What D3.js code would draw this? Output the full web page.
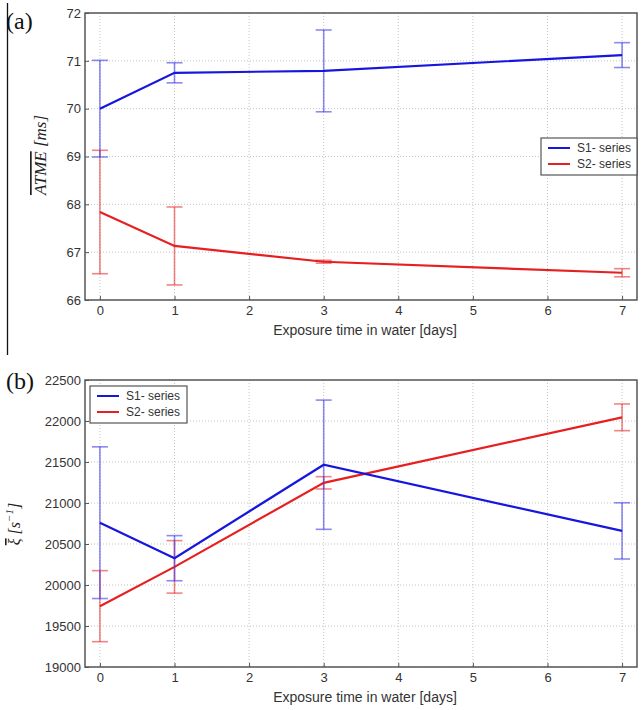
<!DOCTYPE html>
<html>
<head>
<meta charset="utf-8">
<script src="https://cdn.jsdelivr.net/npm/d3@7"></script>
<style>
  body { margin: 0; background: #fff; }
  svg { display: block; }
</style>
</head>
<body>
<svg id="chart" width="641" height="710"></svg>
<script>
// ---------- data ----------
const days = [0, 1, 3, 7];
const xTicks = [0, 1, 2, 3, 4, 5, 6, 7];
const seriesNames = ["S1- series", "S2- series"];

// panel (a): ATME [ms]
const atmeS1 = [70.00, 70.75, 70.79, 71.12];
const atmeS1Err = [1.01, 0.21, 0.855, 0.26];
const atmeS2 = [67.84, 67.13, 66.80, 66.57];
const atmeS2Err = [1.29, 0.815, 0.03, 0.085];
const atmeTicks = [66, 67, 68, 69, 70, 71, 72];

// panel (b): xi [s^-1]
const xiS1 = [20760, 20327, 21467, 20660];
const xiS1Err = [925, 275, 788, 343];
const xiS2 = [19742, 20221, 21246, 22045];
const xiS2Err = [433, 320, 75, 163];
const xiTicks = [19000, 19500, 20000, 20500, 21000, 21500, 22000, 22500];

const xLabel = "Exposure time in water [days]";

// ---------- style ----------
const BLUE = "rgb(22,22,222)";
const RED = "rgb(230,32,32)";
const BLUE_ERR = "rgba(60,60,230,0.6)";
const RED_ERR = "rgba(230,50,50,0.6)";
const SANS = "'Liberation Sans', Arial, sans-serif";
const SERIF = "'Liberation Serif', 'Times New Roman', serif";

const svg = d3.select("#chart");

const L = 85, R = 637;
const x = d3.scaleLinear().domain([-0.2, 7.2]).range([L, R]);

function panel(opts) {
  const { top, bottom, domain, ticks, s1, s1e, s2, s2e, legend } = opts;
  const y = d3.scaleLinear().domain(domain).range([bottom, top]);
  const g = svg.append("g");

  // grid
  g.append("g").selectAll("line.gx").data(xTicks).join("line")
    .attr("x1", d => x(d)).attr("x2", d => x(d))
    .attr("y1", top).attr("y2", bottom)
    .attr("stroke", "#c4c4c4").attr("stroke-width", 1)
    .attr("stroke-dasharray", "1,2");
  g.append("g").selectAll("line.gy").data(ticks).join("line")
    .attr("x1", L).attr("x2", R)
    .attr("y1", d => y(d)).attr("y2", d => y(d))
    .attr("stroke", "#c4c4c4").attr("stroke-width", 1)
    .attr("stroke-dasharray", "1,2");

  // axes
  const xa = g.append("g").attr("transform", `translate(0,${bottom})`)
    .call(d3.axisBottom(x).tickValues(xTicks).tickFormat(d3.format("d"))
      .tickSize(-4).tickPadding(6));
  const ya = g.append("g").attr("transform", `translate(${L},0)`)
    .call(d3.axisLeft(y).tickValues(ticks).tickFormat(d3.format("d"))
      .tickSize(-4).tickPadding(4));
  [xa, ya].forEach(a => {
    a.select(".domain").remove();
    a.selectAll(".tick line").attr("stroke", "#555");
    a.selectAll(".tick text").attr("fill", "#333")
      .style("font-family", SANS).style("font-size", "13px");
  });

  // series
  const line = d3.line().x((d, i) => x(days[i])).y(d => y(d));
  function series(vals, errs, col, ecol) {
    const eg = g.append("g");
    days.forEach((dd, i) => {
      const cx = x(dd), y1 = y(vals[i] + errs[i]), y0 = y(vals[i] - errs[i]);
      eg.append("line").attr("x1", cx).attr("x2", cx).attr("y1", y1).attr("y2", y0)
        .attr("stroke", ecol).attr("stroke-width", 1.6);
      [y1, y0].forEach(yy => eg.append("line")
        .attr("x1", cx - 8).attr("x2", cx + 8).attr("y1", yy).attr("y2", yy)
        .attr("stroke", ecol).attr("stroke-width", 1.6));
    });
    g.append("path").datum(vals).attr("d", line)
      .attr("fill", "none").attr("stroke", col).attr("stroke-width", 2.2);
  }
  series(s2, s2e, RED, RED_ERR);
  series(s1, s1e, BLUE, BLUE_ERR);

  // frame
  g.append("rect").attr("x", L).attr("y", top).attr("width", R - L).attr("height", bottom - top)
    .attr("fill", "none").attr("stroke", "#555").attr("stroke-width", 1.5);

  // x label
  g.append("text").attr("x", (L + R) / 2 + 4).attr("y", bottom + 35)
    .attr("text-anchor", "middle").attr("fill", "#333")
    .style("font-family", SANS).style("font-size", "14px").text(xLabel);

  // legend
  const lg = g.append("g");
  lg.append("rect").attr("x", legend.x).attr("y", legend.y).attr("width", legend.w).attr("height", legend.h)
    .attr("fill", "#fff").attr("stroke", "#555").attr("stroke-width", 1.2);
  [BLUE, RED].forEach((c, i) => {
    const yy = legend.y + 10 + i * 16;
    lg.append("line").attr("x1", legend.x + 7).attr("x2", legend.x + 29)
      .attr("y1", yy).attr("y2", yy).attr("stroke", c).attr("stroke-width", 2);
    lg.append("text").attr("x", legend.x + 36).attr("y", yy + 4)
      .attr("fill", "#333").style("font-family", SANS).style("font-size", "12px")
      .text(seriesNames[i]);
  });
  return { g, y };
}

// panel (a)
const pa = panel({
  top: 13, bottom: 300, domain: [66, 72], ticks: atmeTicks,
  s1: atmeS1, s1e: atmeS1Err, s2: atmeS2, s2e: atmeS2Err,
  legend: { x: 541, y: 138, w: 96, h: 37 }
});
// panel (b)
const pb = panel({
  top: 380, bottom: 667, domain: [19000, 22500], ticks: xiTicks,
  s1: xiS1, s1e: xiS1Err, s2: xiS2, s2e: xiS2Err,
  legend: { x: 90, y: 386, w: 97, h: 37 }
});

// y labels
const ya = svg.append("text").attr("transform", "translate(46,155) rotate(-90)")
  .attr("text-anchor", "middle").attr("fill", "#222")
  .style("font-family", SERIF).style("font-size", "17px").style("font-style", "italic");
ya.append("tspan").style("text-decoration", "overline").text("ATME");
ya.append("tspan").text(" [ms]");

const yb = svg.append("text").attr("transform", "translate(20,524) rotate(-90)")
  .attr("text-anchor", "middle").attr("fill", "#222")
  .style("font-family", SERIF).style("font-size", "16px").style("font-style", "italic");
yb.append("tspan").style("text-decoration", "overline").text("ξ");
yb.append("tspan").text(" [s");
yb.append("tspan").attr("dy", -7).style("font-size", "11px").text("−1");
yb.append("tspan").attr("dy", 7).text("]");

// panel letters
svg.append("text").attr("x", 6).attr("y", 29).attr("fill", "#111")
  .style("font-family", SERIF).style("font-size", "24px").text("(a)");
svg.append("text").attr("x", 6).attr("y", 389).attr("fill", "#111")
  .style("font-family", SERIF).style("font-size", "24px").text("(b)");

// vertical separator line at left
svg.append("line").attr("x1", 7.5).attr("x2", 7.5).attr("y1", 3).attr("y2", 355)
  .attr("stroke", "#111").attr("stroke-width", 1.3);
</script>
</body>
</html>
